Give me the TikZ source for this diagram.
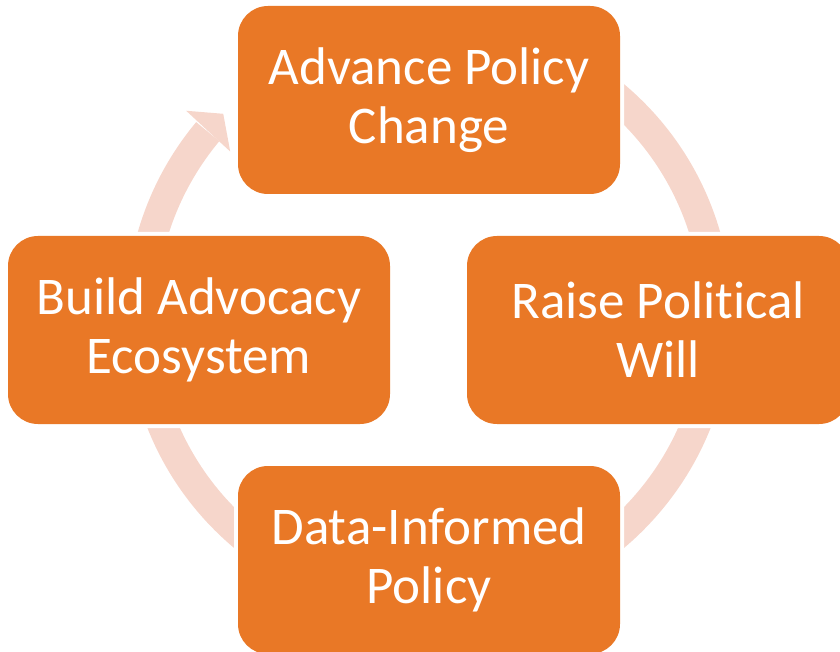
\documentclass[tikz,border=0pt]{standalone}
\usepackage{fontspec}
\setmainfont{Carlito}[Ligatures=NoCommon, Contextuals=NoAlternate]
\usetikzlibrary{calc}
\definecolor{boxorange}{HTML}{E97826}
\definecolor{ringpink}{HTML}{F6D6CB}
\pgfdeclarelayer{background}
\pgfsetlayers{background,main}
\begin{document}
\begin{tikzpicture}[x=1pt,y=1pt,
  stepbox/.style={fill=boxorange, rounded corners=30pt, minimum width=382pt,
    minimum height=188pt, inner sep=0pt, align=center, text=white,
    font=\fontsize{53}{59}\selectfont, preaction={draw=white, line width=8pt}},
  ring/.style={ringpink, line width=30pt}]
\path[use as bounding box] (0,0) rectangle (840,651);
\clip (0,0) rectangle (840,651);
\coordinate (c) at (429,335);
\node[stepbox] (top) at (429,551) {Advance Policy\\Change};
\node[stepbox] (right) at (658,321) {Raise Polit\kern0pt ical\\Will};
\node[stepbox] (bottom) at (429,91) {Data-Informed\\Policy};
\node[stepbox] (left) at (199,321) {Build Advocacy\\Ecosystem};
\begin{pgfonlayer}{background}
\draw[ring] ($(c)+(140.2:288pt)$) arc[start angle=140.2, end angle=450, radius=288pt];
\fill[ringpink] ($(c)+(139.8:318pt)$) -- ($(c)+(135.5:288.5pt)$) -- ($(c)+(140.4:258pt)$) -- cycle;
\end{pgfonlayer}
\end{tikzpicture}
\end{document}
